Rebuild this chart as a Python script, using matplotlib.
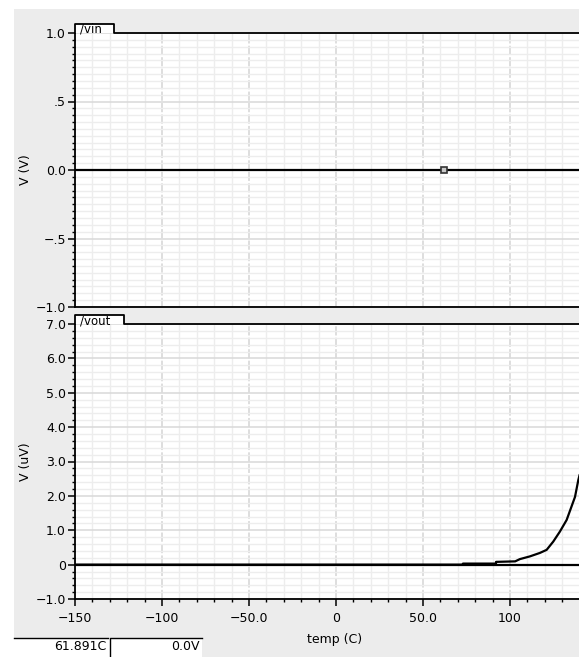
import matplotlib
matplotlib.use("Agg")
import matplotlib.pyplot as plt
from matplotlib.patches import Rectangle
from matplotlib.lines import Line2D
from matplotlib.ticker import MultipleLocator

# ---------------- data ----------------
vin_temp = [-150, 140]
vin_vals = [0.0, 0.0]
cursor_temp = 61.891
cursor_val = 0.0

vout_temp = [-150, 73, 73, 92, 92, 103, 105.7, 111.5, 117.2, 121.1, 124.9,
             128.7, 132.6, 135.4, 137.4, 139.3, 140]
vout_vals = [0.0, 0.0, 0.03, 0.03, 0.08, 0.095, 0.16, 0.24, 0.34, 0.43, 0.67,
             0.96, 1.30, 1.69, 1.97, 2.46, 2.6]

x_ticks = [-150, -100, -50, 0, 50, 100]
x_labels = ["\u2212150", "\u2212100", "\u221250.0", "0", "50.0", "100"]
top_yticks = [1.0, 0.5, 0.0, -0.5, -1.0]
top_ylabels = ["1.0", ".5", "0.0", "\u2212.5", "\u22121.0"]
bot_yticks = [7, 6, 5, 4, 3, 2, 1, 0, -1]
bot_ylabels = ["7.0", "6.0", "5.0", "4.0", "3.0", "2.0", "1.0", "0", "\u22121.0"]

# ---------------- figure ----------------
W, H = 579, 657
fig = plt.figure(figsize=(W / 100, H / 100), dpi=100)
fig.patch.set_facecolor("white")
plt.rcParams["font.family"] = ["DejaVu Sans"]


def fx(x):
    return x / W


def fy(y):
    return 1 - y / H


GRAY = "#ececec"
fig.patches.append(Rectangle((fx(14), 0), 1 - fx(14), fy(9), transform=fig.transFigure,
                             facecolor=GRAY, edgecolor="none", zorder=-10))
fig.patches.append(Rectangle((fx(14), 0), fx(202) - fx(14), fy(638), transform=fig.transFigure,
                             facecolor="white", edgecolor="none", zorder=-9))

XMIN, XMAX = -150, 139.7


def style_axes(ax, yticks, ylabels, ymin, ymax, yminor, show_x):
    ax.set_xlim(XMIN, XMAX)
    ax.set_ylim(ymin, ymax)
    ax.set_xticks(x_ticks)
    ax.xaxis.set_minor_locator(MultipleLocator(10))
    ax.set_yticks(yticks)
    ax.set_yticklabels(ylabels)
    ax.yaxis.set_minor_locator(MultipleLocator(yminor))
    ax.tick_params(axis="both", which="major", length=5, width=1.1, direction="out",
                   labelsize=9, pad=1.5, colors="black")
    ax.tick_params(axis="x", which="major", pad=4)
    ax.tick_params(axis="both", which="minor", length=2.5, width=1.0, direction="out")
    if show_x:
        ax.set_xticklabels(x_labels)
    else:
        ax.tick_params(axis="x", which="both", length=0, labelbottom=False)
    ax.grid(which="minor", color="#ededed", linewidth=1.0, linestyle="-")
    ax.grid(which="major", axis="y", color="#d9d9d9", linewidth=1.1, linestyle="-")
    ax.grid(which="major", axis="x", color="#d4d4d4", linewidth=1.1, linestyle=(0, (6, 1.5)))
    ax.set_axisbelow(True)
    for s in ("top", "right"):
        ax.spines[s].set_visible(False)
    for s in ("left", "bottom"):
        ax.spines[s].set_linewidth(1.3)


def draw_tab(x0, x1, ytop, yspine, label):
    fig.patches.append(Rectangle((fx(x0), fy(yspine)), fx(x1) - fx(x0), fy(ytop) - fy(yspine),
                                 transform=fig.transFigure, facecolor="white",
                                 edgecolor="none", zorder=5))
    fig.lines.append(Line2D([fx(x0), fx(x0), fx(x1), fx(x1), 1.0],
                            [fy(yspine), fy(ytop), fy(ytop), fy(yspine), fy(yspine)],
                            transform=fig.transFigure, color="black", linewidth=1.3, zorder=6))
    fig.text(fx(x0 + 5), fy((ytop + yspine) / 2 + 1), label, fontsize=8.5,
             va="center", ha="left", zorder=7)


# top axes (/vin)
ax1 = fig.add_axes([fx(75), fy(307), 1 - fx(75), (307 - 33) / H])
style_axes(ax1, top_yticks, top_ylabels, -1.0, 1.0, 0.05, False)
ax1.plot(vin_temp, vin_vals, color="black", linewidth=1.6, zorder=3)
ax1.plot([cursor_temp], [cursor_val], marker="s", markersize=5, markerfacecolor="#c8c8c8",
         markeredgecolor="#333333", markeredgewidth=1.2, linestyle="none", zorder=4)
draw_tab(75, 114, 24, 33, "/vin")

# bottom axes (/vout)
ax2 = fig.add_axes([fx(75), fy(599), 1 - fx(75), (599 - 324) / H])
style_axes(ax2, bot_yticks, bot_ylabels, -1.0, 7.0, 0.2, True)
ax2.axhline(0, color="black", linewidth=1.6, zorder=2)
ax2.plot(vout_temp, vout_vals, color="black", linewidth=1.6, zorder=3)
draw_tab(75, 124, 315, 324, "/vout")

# axis labels
fig.text(fx(26), fy(170), "V (V)", rotation=90, fontsize=9, ha="center", va="center")
fig.text(fx(26), fy(462), "V (uV)", rotation=90, fontsize=9, ha="center", va="center")
fig.text(fx(335), fy(639), "temp (C)", fontsize=9, ha="center", va="center")

# readout boxes
fig.lines.append(Line2D([fx(14), fx(108)], [fy(638), fy(638)], transform=fig.transFigure,
                        color="black", linewidth=1.0))
fig.lines.append(Line2D([fx(110), fx(110), fx(202)], [0, fy(638), fy(638)],
                        transform=fig.transFigure, color="black", linewidth=1.0))
fig.text(fx(106), fy(646), "61.891C", fontsize=9, ha="right", va="center")
fig.text(fx(200), fy(646), "0.0V", fontsize=9, ha="right", va="center")

fig.savefig("out.png", dpi=100)
